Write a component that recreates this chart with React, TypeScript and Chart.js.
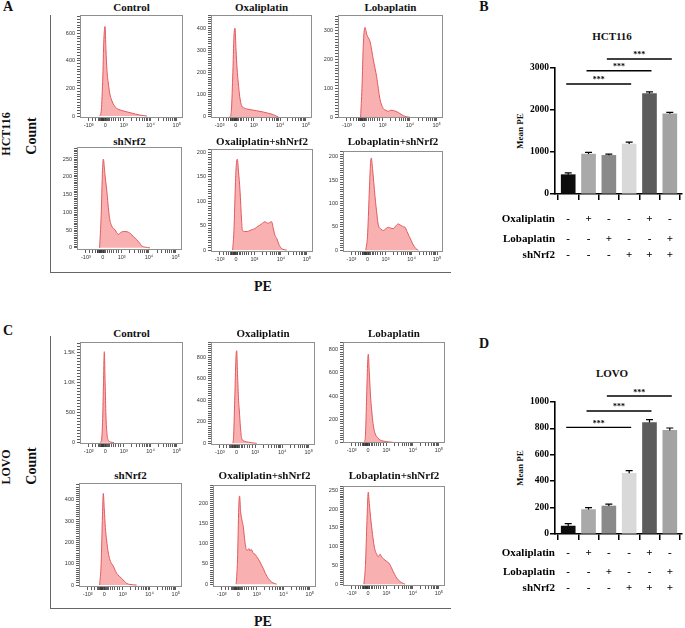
import React, { useEffect, useRef, useState } from 'react';
import { Chart, registerables } from 'chart.js';
Chart.register(...registerables);

const SERIF = "'Liberation Serif', 'Times New Roman', serif";
const SANS = 'Liberation Sans';

// ---- flow histogram axis (logicle display, positions 0..1000 across the plot) ----
const X_MAJOR = [85, 245, 425, 685, 940];
const X_MAJOR_LABELS = ['-10³', '0', '10³', '10⁴', '10⁵'];
const X_MINOR = [120, 150, 175, 192, 198, 204, 210, 216, 222, 228, 233, 238, 251, 257, 264, 276, 290, 306, 325, 347, 372, 398,
  503, 549, 582, 607, 627, 645, 660, 673, 762, 807, 839, 863, 883, 900, 915, 928];

// ---- histogram series: [display position, count] ----
const A_CONTROL = [[190, 0], [205, 30], [220, 250], [232, 560], [243, 650], [252, 480], [262, 330], [275, 239], [290, 160], [307, 116], [330, 78], [356, 56], [400, 42], [453, 31], [500, 22], [540, 14], [583, 7], [620, 3], [650, 0]];
const A_OXALI = [[185, 0], [200, 20], [215, 180], [228, 370], [238, 400], [248, 300], [258, 220], [270, 155], [285, 90], [304, 50], [330, 40], [353, 36], [400, 32], [450, 28], [518, 22], [570, 16], [617, 10], [645, 4], [666, 0]];
const A_LOBA = [[215, 0], [228, 100], [242, 260], [257, 311], [275, 285], [305, 262], [337, 198], [368, 140], [400, 62], [431, 30], [455, 24], [479, 20], [500, 24], [527, 23], [550, 20], [575, 16], [600, 10], [622, 5], [655, 1], [686, 0]];
const A_SH = [[215, 0], [230, 90], [243, 220], [251, 250], [265, 210], [283, 163], [308, 88], [330, 62], [362, 51], [393, 38], [420, 44], [441, 46], [465, 46], [489, 44], [510, 40], [537, 32], [560, 25], [584, 18], [600, 12], [616, 6], [650, 2], [695, 0]];
const A_OXALI_SH = [[212, 0], [225, 40], [240, 140], [250, 180], [258, 186], [270, 160], [284, 123], [300, 60], [307, 41], [330, 38], [355, 38], [380, 40], [405, 42], [431, 44], [455, 48], [480, 51], [505, 55], [529, 58], [545, 56], [562, 55], [580, 57], [595, 58], [610, 45], [627, 30], [644, 24], [665, 12], [693, 3], [742, 0]];
const A_LOBA_SH = [[228, 0], [245, 30], [262, 120], [275, 185], [283, 197], [295, 175], [320, 115], [340, 75], [353, 54], [380, 45], [403, 42], [430, 46], [453, 49], [478, 47], [503, 46], [528, 52], [553, 56], [570, 54], [587, 52], [605, 50], [620, 49], [640, 40], [663, 29], [683, 20], [703, 11], [725, 4], [753, 0]];
const C_CONTROL = [[195, 0], [210, 60], [220, 400], [228, 1000], [236, 1517], [244, 1000], [252, 450], [262, 150], [275, 40], [300, 10], [330, 0]];
const C_OXALI = [[205, 0], [215, 30], [228, 400], [240, 800], [247, 861], [255, 650], [265, 400], [272, 310], [283, 150], [295, 46], [320, 20], [360, 10], [404, 3], [440, 0]];
const C_LOBA = [[210, 0], [220, 60], [232, 400], [242, 700], [248, 762], [258, 600], [270, 400], [281, 280], [295, 160], [314, 78], [340, 40], [363, 20], [400, 10], [430, 5], [461, 2], [490, 0]];
const C_SH = [[200, 0], [215, 100], [228, 330], [236, 430], [245, 360], [256, 270], [268, 211], [285, 150], [301, 117], [318, 100], [333, 89], [350, 70], [366, 55], [390, 42], [415, 31], [440, 18], [463, 8], [495, 3], [527, 1], [560, 0]];
const C_OXALI_SH = [[225, 0], [238, 60], [250, 190], [258, 218], [268, 180], [280, 160], [294, 142], [310, 105], [327, 84], [340, 85], [350, 88], [359, 82], [370, 86], [392, 76], [408, 74], [424, 68], [440, 62], [456, 55], [472, 47], [488, 39], [510, 26], [537, 14], [570, 5], [618, 0]];
const C_LOBA_SH = [[205, 0], [220, 50], [235, 170], [248, 246], [258, 215], [270, 180], [281, 153], [298, 115], [314, 91], [330, 80], [346, 73], [363, 80], [380, 72], [396, 68], [412, 64], [432, 60], [454, 55], [473, 45], [493, 33], [518, 20], [542, 11], [575, 4], [608, 0]];

// ---- bar charts ----
const GROUPS = ['Control', 'Oxaliplatin', 'Lobaplatin', 'shNrf2', 'Oxaliplatin+shNrf2', 'Lobaplatin+shNrf2'];
const HCT_VALUES = [460, 950, 920, 1190, 2390, 1910];
const HCT_ERRORS = [45, 40, 30, 45, 40, 35];
const HCT_TICKS = [0, 1000, 2000, 3000];
const HCT_SIG = [[0, 3, 2620], [1, 4, 2935], [2, 5, 3215]];
const LOVO_VALUES = [60, 185, 212, 460, 845, 785];
const LOVO_ERRORS = [18, 15, 15, 20, 22, 18];
const LOVO_TICKS = [0, 200, 400, 600, 800, 1000];
const LOVO_SIG = [[0, 3, 808], [1, 4, 932], [2, 5, 1045]];
const ROW_NAMES = ['Oxaliplatin', 'Lobaplatin', 'shNrf2'];
const OXALI_ROW = ['-', '+', '-', '-', '+', '-'];
const LOBA_ROW = ['-', '-', '+', '-', '-', '+'];
const SH_ROW = ['-', '-', '-', '+', '+', '+'];
const BAR_COLORS = ['#0d0d0d', '#a9a9a9', '#8a8a8a', '#d9d9d9', '#5c5c5c', '#a3a3a3'];

const LINE = '#e25a5f';
const FILL = '#f8b0b0';

type HistSpec = { title: string; l: number; t: number; r: number; b: number; yMin: number; yMax: number; step: number; titleY: number; pts: number[][]; k?: boolean };

const HISTS: HistSpec[] = [
  { title: 'Control', l: 80, t: 15, r: 183, b: 118, yMin: -14, yMax: 733, step: 200, titleY: 7, pts: A_CONTROL },
  { title: 'Oxaliplatin', l: 211, t: 15, r: 312, b: 118, yMin: -5, yMax: 460, step: 100, titleY: 7, pts: A_OXALI },
  { title: 'Lobaplatin', l: 338, t: 15, r: 443, b: 118, yMin: -3, yMax: 354, step: 100, titleY: 7, pts: A_LOBA },
  { title: 'shNrf2', l: 77, t: 147, r: 182, b: 250, yMin: -6, yMax: 284, step: 50, titleY: 141, pts: A_SH },
  { title: 'Oxaliplatin+shNrf2', l: 211, t: 149, r: 313, b: 252, yMin: -4, yMax: 207, step: 50, titleY: 141, pts: A_OXALI_SH },
  { title: 'Lobaplatin+shNrf2', l: 343, t: 151, r: 443, b: 252, yMin: -4, yMax: 212, step: 50, titleY: 141, pts: A_LOBA_SH },
  { title: 'Control', l: 80, t: 342, r: 183, b: 444, yMin: -22, yMax: 1678, step: 500, titleY: 333, pts: C_CONTROL, k: true },
  { title: 'Oxaliplatin', l: 211, t: 342, r: 315, b: 445, yMin: -16, yMax: 942, step: 200, titleY: 333, pts: C_OXALI },
  { title: 'Lobaplatin', l: 343, t: 342, r: 445, b: 443, yMin: -6, yMax: 868, step: 200, titleY: 333, pts: C_LOBA },
  { title: 'shNrf2', l: 79, t: 483, r: 182, b: 587, yMin: -9, yMax: 479, step: 100, titleY: 475, pts: C_SH },
  { title: 'Oxaliplatin+shNrf2', l: 213, t: 485, r: 316, b: 587, yMin: -7, yMax: 245, step: 50, titleY: 475, pts: C_OXALI_SH },
  { title: 'Lobaplatin+shNrf2', l: 343, t: 486, r: 445, b: 586, yMin: -5, yMax: 262, step: 50, titleY: 475, pts: C_LOBA_SH },
];

const framePlugin = {
  id: 'frame',
  afterDraw(chart: any) {
    const { ctx, chartArea } = chart;
    const { left, top, right, bottom } = chartArea;
    ctx.save();
    ctx.strokeStyle = '#8f8f8f';
    ctx.lineWidth = 1;
    ctx.strokeRect(left + 0.5, top + 0.5, right - left - 1, bottom - top - 1);
    ctx.restore();
  },
};

function Histogram({ spec }: { spec: HistSpec }) {
  const ref = useRef<HTMLCanvasElement>(null);
  const PL = 26, PT = 5, PR = 9, PB = 16;
  const w = spec.r - spec.l;
  const h = spec.b - spec.t;
  useEffect(() => {
    const minorStep = spec.step / 10;
    const yTicks: number[] = [];
    for (let i = 0; i * minorStep <= spec.yMax; i++) yTicks.push(i * minorStep);
    const xTicks = [...X_MAJOR, ...X_MINOR].sort((a, b) => a - b);
    const fmtY = (v: number) => {
      if (v % spec.step !== 0) return '';
      if (spec.k && v >= 1000) return (v / 1000).toFixed(1) + 'K';
      return String(v);
    };
    const chart = new Chart(ref.current!, {
      type: 'line',
      data: {
        datasets: [{
          data: spec.pts.map(([x, y]) => ({ x, y })),
          borderColor: LINE,
          backgroundColor: FILL,
          borderWidth: 1,
          fill: 'origin',
          pointRadius: 0,
          cubicInterpolationMode: 'monotone',
        }],
      },
      options: {
        responsive: false,
        animation: false,
        layout: { padding: { top: PT, right: PR, left: 0, bottom: 0 } },
        plugins: { legend: { display: false }, tooltip: { enabled: false } },
        scales: {
          x: {
            type: 'linear', min: 0, max: 1000,
            afterBuildTicks: (s: any) => { s.ticks = xTicks.map((value) => ({ value })); },
            afterFit: (s: any) => { s.height = PB; s.paddingLeft = 0; s.paddingRight = 0; },
            ticks: {
              autoSkip: false, maxRotation: 0, padding: 1,
              font: { size: 5.5, family: SANS }, color: '#333',
              callback: (v: any) => { const i = X_MAJOR.indexOf(Number(v)); return i >= 0 ? X_MAJOR_LABELS[i] : ''; },
            },
            grid: { drawOnChartArea: false, tickLength: 3, color: '#333', lineWidth: 0.8 },
            border: { display: false },
          },
          y: {
            type: 'linear', min: spec.yMin, max: spec.yMax,
            afterBuildTicks: (s: any) => { s.ticks = yTicks.map((value) => ({ value })); },
            afterFit: (s: any) => { s.width = PL; s.paddingTop = 0; s.paddingBottom = 0; },
            ticks: {
              autoSkip: false, padding: 2,
              font: { size: 5.5, family: SANS }, color: '#333',
              callback: (v: any) => fmtY(Number(v)),
            },
            grid: { drawOnChartArea: false, tickLength: 3, color: '#333', lineWidth: 0.8 },
            border: { display: false },
          },
        },
      },
      plugins: [framePlugin],
    } as any);
    return () => chart.destroy();
  }, []);
  return (
    <canvas ref={ref} width={w + PL + PR} height={h + PT + PB}
      style={{ position: 'absolute', left: spec.l - PL, top: spec.t - PT, width: w + PL + PR, height: h + PT + PB }} />
  );
}

type BarSpec = {
  top: number; plotTop: number; plotBottom: number; values: number[]; errors: number[];
  ticks: number[]; sig: number[][]; rowOffsets: number[];
};

type BarLayout = { left: number; bottom: number; xs: number[]; ticks: { y: number; label: string }[]; sig: { x: number; y: number }[] };

const BAR_LEFT = 470, BAR_W = 215, PLOT_LEFT = 555, PLOT_RIGHT = 682;

const boldSerif = (size: number): React.CSSProperties => ({
  position: 'absolute', fontFamily: SERIF, fontWeight: 'bold', fontSize: size, lineHeight: 1, whiteSpace: 'nowrap', color: '#000',
});

function BarPanel({ spec }: { spec: BarSpec }) {
  const ref = useRef<HTMLCanvasElement>(null);
  const [lay, setLay] = useState<BarLayout | null>(null);
  const H = 240;
  useEffect(() => {
    const padTop = spec.plotTop - spec.top;
    const xH = H - (spec.plotBottom - spec.top);
    const yMax = spec.ticks[spec.ticks.length - 1];
    const extras = {
      id: 'barExtras',
      afterDatasetsDraw(chart: any) {
        const { ctx } = chart;
        const xs = chart.scales.x, ys = chart.scales.y;
        ctx.save();
        ctx.strokeStyle = '#000';
        ctx.lineWidth = 1.2;
        spec.values.forEach((v, i) => {
          const x = xs.getPixelForValue(i + 1);
          const y0 = ys.getPixelForValue(v);
          const y1 = ys.getPixelForValue(v + spec.errors[i]);
          ctx.beginPath();
          ctx.moveTo(x, y0); ctx.lineTo(x, y1);
          ctx.moveTo(x - 3.5, y1); ctx.lineTo(x + 3.5, y1);
          ctx.stroke();
        });
        ctx.lineWidth = 1.4;
        spec.sig.forEach(([a, b, v]) => {
          const x1 = xs.getPixelForValue(a + 1) - 2;
          const x2 = xs.getPixelForValue(b + 1) + 2;
          const y = ys.getPixelForValue(v);
          ctx.beginPath(); ctx.moveTo(x1, y); ctx.lineTo(x2, y); ctx.stroke();
        });
        ctx.restore();
      },
    };
    const chart = new Chart(ref.current!, {
      type: 'bar',
      data: {
        labels: GROUPS,
        datasets: [{
          data: spec.values.map((y, i) => ({ x: i + 1, y })),
          backgroundColor: BAR_COLORS,
          borderWidth: 0,
          barThickness: 14,
        }],
      },
      options: {
        responsive: false,
        animation: false,
        layout: { padding: { top: padTop, right: BAR_LEFT + BAR_W - PLOT_RIGHT, left: 0, bottom: 0 } },
        plugins: { legend: { display: false }, tooltip: { enabled: false } },
        scales: {
          x: {
            type: 'linear', min: 0.35, max: 6.6, offset: false,
            afterBuildTicks: (s: any) => { s.ticks = GROUPS.map((_, i) => ({ value: i + 1 })); },
            afterFit: (s: any) => { s.height = xH; s.paddingLeft = 0; s.paddingRight = 0; },
            ticks: { display: false },
            grid: { drawOnChartArea: false, tickLength: 6, color: '#000', lineWidth: 1.5 },
            border: { display: true, color: '#000', width: 1.6 },
          },
          y: {
            type: 'linear', min: 0, max: yMax,
            afterBuildTicks: (s: any) => { s.ticks = spec.ticks.map((value) => ({ value })); },
            afterFit: (s: any) => { s.width = PLOT_LEFT - BAR_LEFT; s.paddingTop = 0; s.paddingBottom = 0; },
            ticks: { display: false },
            grid: { drawOnChartArea: false, tickLength: 5, color: '#000', lineWidth: 1.5 },
            border: { display: true, color: '#000', width: 1.6 },
          },
        },
      },
      plugins: [extras],
    } as any);
    const xs: any = chart.scales.x, ys: any = chart.scales.y;
    setLay({
      left: chart.chartArea.left,
      bottom: chart.chartArea.bottom,
      xs: spec.values.map((_, i) => xs.getPixelForValue(i + 1)),
      ticks: spec.ticks.map((v) => ({ y: ys.getPixelForValue(v), label: String(v) })),
      sig: spec.sig.map(([a, b, v]) => ({ x: (xs.getPixelForValue(a + 1) + xs.getPixelForValue(b + 1)) / 2, y: ys.getPixelForValue(v) })),
    });
    return () => chart.destroy();
  }, []);
  const rows = [OXALI_ROW, LOBA_ROW, SH_ROW];
  return (
    <div style={{ position: 'absolute', left: BAR_LEFT, top: spec.top, width: BAR_W, height: H }}>
      <canvas ref={ref} width={BAR_W} height={H} style={{ position: 'absolute', left: 0, top: 0, width: BAR_W, height: H }} />
      {lay && lay.ticks.map((t, i) => (
        <div key={'t' + i} style={{ ...boldSerif(9.5), right: BAR_W - (lay.left - 6), top: t.y, transform: 'translateY(-50%)' }}>{t.label}</div>
      ))}
      {lay && lay.sig.map((s, i) => (
        <div key={'s' + i} style={{ ...boldSerif(8), left: s.x, top: s.y - 3.5, transform: 'translate(-50%, -50%)' }}>***</div>
      ))}
      {lay && rows.map((row, r) => (
        <React.Fragment key={'r' + r}>
          <div style={{ ...boldSerif(11), right: BAR_W - lay.left, top: lay.bottom + spec.rowOffsets[r], transform: 'translateY(-50%)' }}>{ROW_NAMES[r]}</div>
          {row.map((s, i) => (
            <div key={i} style={{ ...boldSerif(11), left: lay.xs[i], top: lay.bottom + spec.rowOffsets[r], transform: 'translate(-50%, -50%)' }}>{s}</div>
          ))}
        </React.Fragment>
      ))}
    </div>
  );
}

function Txt({ x, y, text, size, rotate }: { x: number; y: number; text: string; size: number; rotate?: boolean }) {
  return (
    <div style={{
      position: 'absolute', left: x, top: y,
      transform: `translate(-50%, -50%)${rotate ? ' rotate(-90deg)' : ''}`,
      fontFamily: SERIF, fontWeight: 'bold', fontSize: size, lineHeight: 1,
      whiteSpace: 'nowrap', color: '#111',
    }}>{text}</div>
  );
}

export default function App() {
  return (
    <div style={{ position: 'absolute', left: 0, top: 0, width: 685, height: 628, background: '#fff', overflow: 'hidden' }}>
      {/* panel frames */}
      <div style={{ position: 'absolute', left: 50, top: 15, width: 400, height: 257, borderLeft: '1.5px solid #666', borderBottom: '1.5px solid #666' }} />
      <div style={{ position: 'absolute', left: 50, top: 336, width: 400, height: 272, borderLeft: '1.5px solid #666', borderBottom: '1.5px solid #666' }} />

      <Txt x={8} y={7} text="A" size={14} />
      <Txt x={484} y={7} text="B" size={14} />
      <Txt x={8} y={331} text="C" size={14} />
      <Txt x={484} y={344} text="D" size={14} />

      <Txt x={6} y={134} text="HCT116" size={12} rotate />
      <Txt x={32} y={136} text="Count" size={14} rotate />
      <Txt x={263} y={287} text="PE" size={14} />
      <Txt x={6} y={467} text="LOVO" size={12} rotate />
      <Txt x={32} y={466} text="Count" size={14} rotate />
      <Txt x={263} y={622} text="PE" size={14} />

      {HISTS.map((s, i) => (
        <React.Fragment key={i}>
          <Txt x={(s.l + s.r) / 2} y={s.titleY} text={s.title} size={11} />
          <Histogram spec={s} />
        </React.Fragment>
      ))}

      <Txt x={612} y={36} text="HCT116" size={11} />
      <Txt x={520} y={131} text="Mean PE" size={9} rotate />
      <BarPanel spec={{ top: 40, plotTop: 68, plotBottom: 194, values: HCT_VALUES, errors: HCT_ERRORS, ticks: HCT_TICKS, sig: HCT_SIG, rowOffsets: [24.3, 44.3, 60] }} />

      <Txt x={612} y={373} text="LOVO" size={11} />
      <Txt x={520} y={468} text="Mean PE" size={9} rotate />
      <BarPanel spec={{ top: 360, plotTop: 402, plotBottom: 534, values: LOVO_VALUES, errors: LOVO_ERRORS, ticks: LOVO_TICKS, sig: LOVO_SIG, rowOffsets: [17.7, 37, 52.7] }} />
    </div>
  );
}
